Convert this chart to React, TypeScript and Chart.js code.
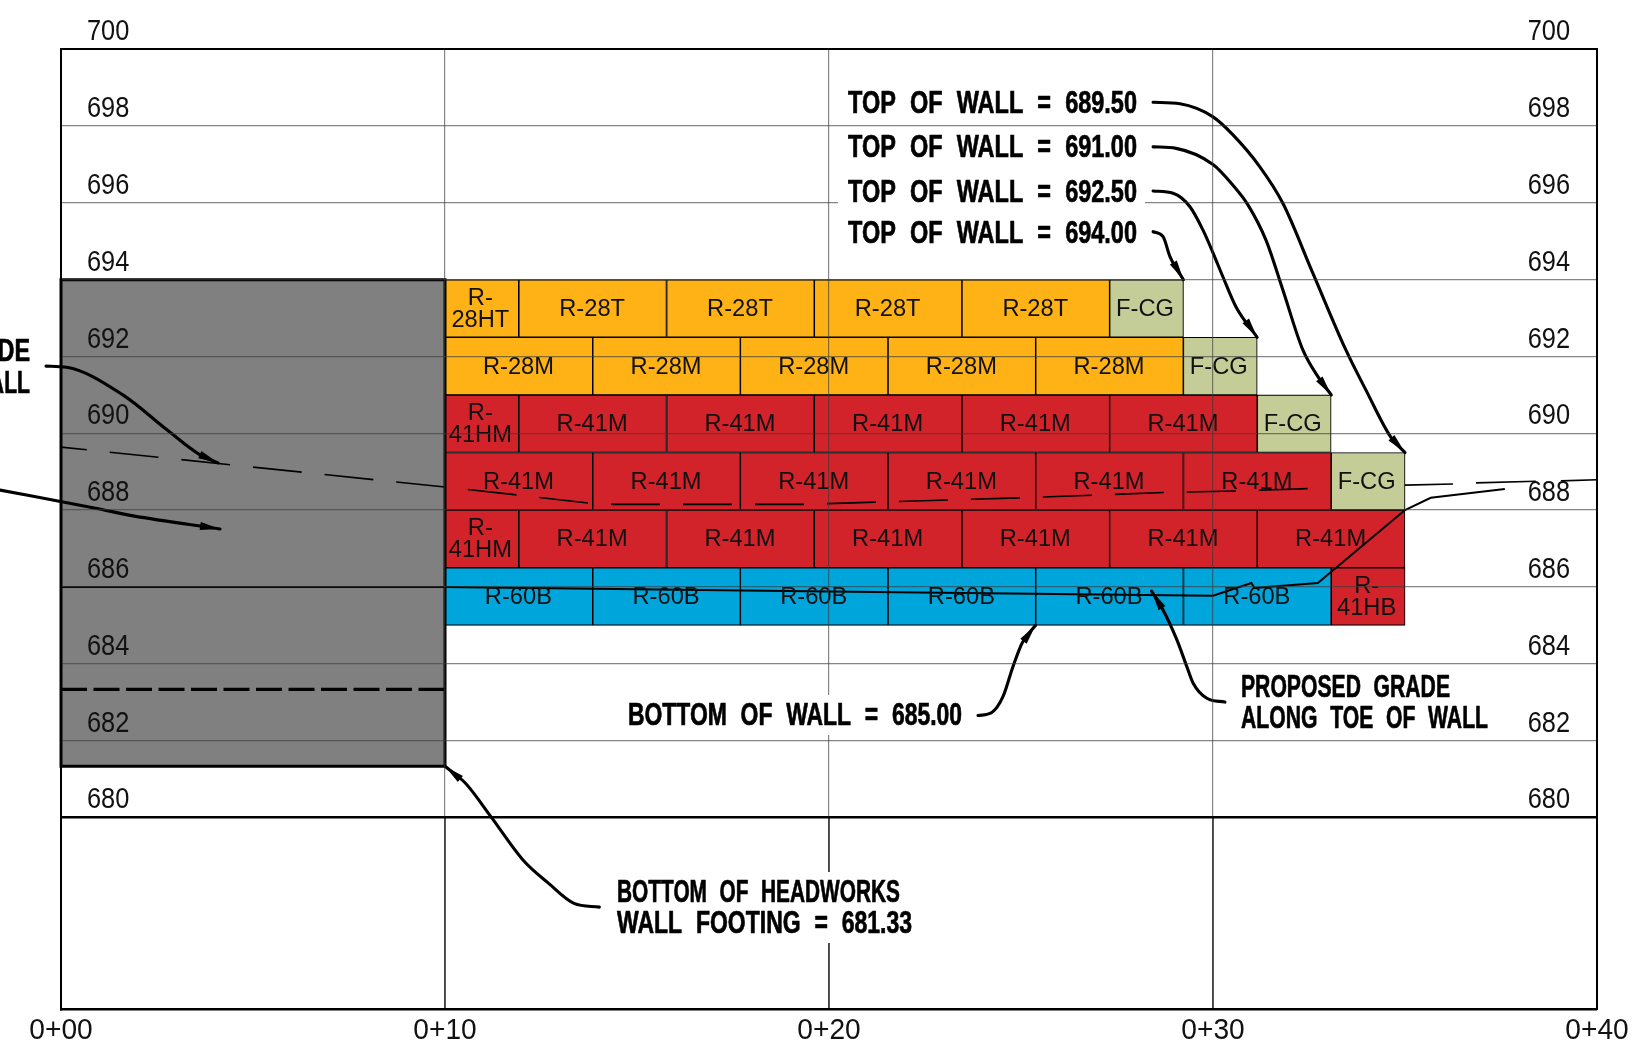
import React, { useEffect, useRef } from "react";
import { Chart, registerables } from "chart.js";

Chart.register(...registerables);

// ---- axis values ----
const xTicks = [0, 10, 20, 30, 40];
const yTicks = [680, 682, 684, 686, 688, 690, 692, 694, 696, 698, 700];

// ---- wall panels ----
const rowTops = [694, 692.5, 691, 689.5, 688, 686.5];
const rowDrop = 1.5;
const row1Edges = [10, 11.92, 15.77, 19.62, 23.46, 27.31, 29.23];
const row1Labels = ["R-28HT", "R-28T", "R-28T", "R-28T", "R-28T", "F-CG"];
const row2Edges = [10, 13.85, 17.69, 21.54, 25.38, 29.23, 31.15];
const row2Labels = ["R-28M", "R-28M", "R-28M", "R-28M", "R-28M", "F-CG"];
const row3Edges = [10, 11.92, 15.77, 19.62, 23.46, 27.31, 31.15, 33.08];
const row3Labels = ["R-41HM", "R-41M", "R-41M", "R-41M", "R-41M", "R-41M", "F-CG"];
const row4Edges = [10, 13.85, 17.69, 21.54, 25.38, 29.23, 33.08, 35];
const row4Labels = ["R-41M", "R-41M", "R-41M", "R-41M", "R-41M", "R-41M", "F-CG"];
const row5Edges = [10, 11.92, 15.77, 19.62, 23.46, 27.31, 31.15, 35];
const row5Labels = ["R-41HM", "R-41M", "R-41M", "R-41M", "R-41M", "R-41M", "R-41M"];
const row6Edges = [10, 13.85, 17.69, 21.54, 25.38, 29.23, 33.08, 35];
const row6Labels = ["R-60B", "R-60B", "R-60B", "R-60B", "R-60B", "R-60B", "R-41HB"];

// ---- headworks wall ----
const wallX = [0, 10];
const wallY = [681.33, 694];
const wallDashedY = 683.33;

// ---- grade lines ----
const proposedGrade = [
  [0, 686], [10, 686], [20, 685.88], [30, 685.77], [31, 686.1], [31.08, 685.97],
  [32.73, 686.1], [35, 688], [35.67, 688.32], [37.6, 688.55],
];
const existingGradeLeft = [
  [0, 689.64], [10, 688.6], [11.93, 688.39], [13.78, 688.18], [14.38, 688.15], [19.4, 688.15],
  [21.28, 688.21], [25.03, 688.32], [26.9, 688.39], [28.78, 688.46], [30.65, 688.5],
  [32.53, 688.56], [33.08, 688.58],
];
const existingGradeRight = [
  [35, 688.65], [36.25, 688.68], null, [36.85, 688.71], [38.41, 688.75], null, [39.06, 688.76], [40, 688.79],
];
const stationStubs = [
  [10, 680], [10, 675], null, [20, 680], [20, 675], null, [30, 680], [30, 675],
];

// ---- leaders, label end first, arrow tip last ----
const leaderTop68950 = [[28.44, 698.62], [29.14, 698.58], [30, 698.24], [30.52, 697.77], [31.22, 696.94], [31.82, 695.99], [32.6, 694.17], [33.46, 692.17], [33.98, 691.13], [34.63, 689.9], [35, 689.5]];
const leaderTop69100 = [[28.44, 697.46], [29.04, 697.42], [30, 697], [30.52, 696.46], [30.91, 695.95], [31.38, 695.03], [31.82, 693.73], [32.34, 692.17], [32.79, 691.39], [33.08, 691]];
const leaderTop69250 = [[28.44, 696.31], [28.96, 696.25], [29.4, 695.9], [29.74, 695.29], [30, 694.7], [30.26, 694.07], [30.6, 693.29], [31.15, 692.5]];
const leaderTop69400 = [[28.44, 695.25], [28.7, 695.12], [28.88, 694.6], [29.23, 694]];
const leaderBottomWall = [[23.88, 682.65], [24.24, 682.73], [24.53, 683.14], [24.79, 683.92], [25.03, 684.54], [25.38, 685]];
const leaderProposed = [[30.31, 683], [29.84, 683.1], [29.48, 683.5], [29.32, 683.92], [29.06, 684.62], [28.7, 685.4], [28.4, 685.89]];
const leaderHeadworks = [[14.02, 677.66], [13.36, 677.76], [12.7, 678.28], [12.03, 678.89], [11.2, 680.01], [10.54, 680.88], [10, 681.33]];
const leaderExisting = [[-0.39, 691.75], [0.15, 691.72], [1.61, 691], [2.76, 690.09], [3.62, 689.44], [4.09, 689.23]];
const leaderHeadwall = [[-1.59, 688.52], [0.9, 688.05], [1.88, 687.85], [4.14, 687.51]];
const leaders = [
  leaderTop68950, leaderTop69100, leaderTop69250, leaderTop69400, leaderBottomWall,
  leaderProposed, leaderHeadworks, leaderExisting, leaderHeadwall,
];

// ---- callout text ----
const callouts = [
  { text: "TOP OF WALL = 689.50", left: 848, right: 1137, cy: 104.5 },
  { text: "TOP OF WALL = 691.00", left: 848, right: 1137, cy: 148.5 },
  { text: "TOP OF WALL = 692.50", left: 848, right: 1137, cy: 193 },
  { text: "TOP OF WALL = 694.00", left: 848, right: 1137, cy: 234.5 },
  { text: "BOTTOM OF WALL = 685.00", left: 628, right: 962, cy: 716.5 },
  { text: "PROPOSED GRADE", left: 1241, right: 1450, cy: 688.5 },
  { text: "ALONG TOE OF WALL", left: 1241, right: 1488, cy: 719.5 },
  { text: "BOTTOM OF HEADWORKS", left: 617, right: 900, cy: 893.5 },
  { text: "WALL FOOTING = 681.33", left: 617, right: 912, cy: 924.5 },
  { text: "EXISTING GRADE", left: -178, right: 30, cy: 352.5 },
  { text: "ALONG TOP OF WALL", left: -217, right: 30, cy: 384.5 },
];
const wipeouts = [
  [838, 178, 307, 30],
  [618, 695, 354, 40],
  [607, 872, 315, 71],
];

// ---- styles ----
const ORANGE = "#FEB216";
const RED = "#D2232A";
const BLUE = "#00A5DB";
const GREEN = "#C4CD97";
const GREY = "#808080";
const GRID = "rgba(60,60,60,0.62)";
const TICK_FONT = '29px "Liberation Sans", Arial, sans-serif';
const PANEL_FONT = '23.7px "Liberation Sans", Arial, sans-serif';
const CALLOUT_FONT = 'bold 31px "Liberation Sans", Arial, sans-serif';
const HALF_WIDTH = 73.85;
const FULL_WIDTH = 147.7;

const allRows = [
  [row1Edges, row1Labels], [row2Edges, row2Labels], [row3Edges, row3Labels],
  [row4Edges, row4Labels], [row5Edges, row5Labels], [row6Edges, row6Labels],
] as [number[], string[]][];

type Panel = { x: number; y: number[]; label: string };
const halfPanels: Panel[] = [];
const fullPanels: Panel[] = [];
allRows.forEach(([edges, labels], r) => {
  labels.forEach((label, i) => {
    const panel = { x: (edges[i] + edges[i + 1]) / 2, y: [rowTops[r] - rowDrop, rowTops[r]], label };
    (edges[i + 1] - edges[i] < 2.5 ? halfPanels : fullPanels).push(panel);
  });
});
const panelColor = (label: string) =>
  label.startsWith("R-28") ? ORANGE : label.startsWith("R-41") ? RED : label.startsWith("R-60") ? BLUE : GREEN;

const toPoints = (list: (number[] | null)[]) =>
  list.map((p) => (p ? { x: p[0], y: p[1] } : { x: NaN, y: NaN }));

const splitLabel = (label: string) => {
  if (label === "R-28HT") return ["R-", "28HT"];
  if (label === "R-41HM") return ["R-", "41HM"];
  if (label === "R-41HB") return ["R-", "41HB"];
  return [label];
};

const panelText = {
  id: "panelText",
  afterDatasetsDraw(chart: any) {
    const ctx = chart.ctx;
    ctx.save();
    ctx.font = PANEL_FONT;
    ctx.fillStyle = "#111";
    ctx.textAlign = "center";
    ctx.textBaseline = "middle";
    chart.data.datasets.forEach((ds: any, di: number) => {
      if (!ds.isPanel) return;
      const nudge = ds.barThickness === HALF_WIDTH ? -1.5 : -0.5;
      chart.getDatasetMeta(di).data.forEach((el: any, i: number) => {
        const lines = splitLabel(ds.data[i].label);
        const cy = (el.y + el.base) / 2 + 1;
        lines.forEach((line, k) => {
          ctx.fillText(line, el.x + nudge, cy + (k - (lines.length - 1) / 2) * 22);
        });
      });
    });
    ctx.restore();
  },
};

const squeezed = (ctx: any, text: string, x: number, y: number, sx: number, align: string, heavy = 0) => {
  ctx.save();
  ctx.translate(x, y);
  ctx.scale(sx, 1);
  ctx.textAlign = align;
  ctx.fillText(text, 0, 0);
  if (heavy) {
    ctx.lineWidth = heavy;
    ctx.lineJoin = "round";
    ctx.strokeStyle = "#000";
    ctx.strokeText(text, 0, 0);
  }
  ctx.restore();
};

const overlay = {
  id: "overlay",
  afterDraw(chart: any) {
    const { ctx, scales, chartArea } = chart;
    ctx.save();
    ctx.fillStyle = "#fff";
    wipeouts.forEach(([x, y, w, h]) => ctx.fillRect(x, y, w, h));

    // axis tick labels, condensed like the drafting font
    ctx.fillStyle = "#111";
    ctx.font = TICK_FONT;
    ctx.textBaseline = "middle";
    scales.y.ticks.forEach((t: any) => {
      const py = scales.y.getPixelForValue(t.value) - 17;
      squeezed(ctx, t.label, chartArea.left + 26, py, 0.875, "left");
      squeezed(ctx, t.label, chartArea.right - 27, py, 0.875, "right");
    });
    scales.x.ticks.forEach((t: any) => {
      squeezed(ctx, t.label, scales.x.getPixelForValue(t.value), chartArea.bottom + 22, 0.97, "center");
    });

    // arrow heads
    ctx.fillStyle = "#000";
    leaders.forEach((pts) => {
      const n = pts.length;
      const tx = scales.x.getPixelForValue(pts[n - 1][0]);
      const ty = scales.y.getPixelForValue(pts[n - 1][1]);
      const px = scales.x.getPixelForValue(pts[n - 2][0]);
      const py = scales.y.getPixelForValue(pts[n - 2][1]);
      const a = Math.atan2(ty - py, tx - px);
      const len = 20;
      const half = 4;
      const bx = tx - Math.cos(a) * len;
      const by = ty - Math.sin(a) * len;
      ctx.beginPath();
      ctx.moveTo(tx, ty);
      ctx.lineTo(bx - Math.sin(a) * half, by + Math.cos(a) * half);
      ctx.lineTo(bx + Math.sin(a) * half, by - Math.cos(a) * half);
      ctx.closePath();
      ctx.fill();
    });

    ctx.font = CALLOUT_FONT;
    (ctx as any).wordSpacing = "10px";
    ctx.textBaseline = "middle";
    callouts.forEach((c) => {
      const natural = ctx.measureText(c.text).width;
      squeezed(ctx, c.text, c.left, c.cy, (c.right - c.left) / natural, "left", 0.7);
    });
    ctx.restore();
  },
};

const lineDs = (data: any[], width: number, extra: any = {}) => ({
  type: "line",
  data,
  borderColor: "#000",
  backgroundColor: "#000",
  borderWidth: width,
  pointRadius: 0,
  fill: false,
  clip: false,
  spanGaps: false,
  order: 1,
  ...extra,
});

export default function App() {
  const ref = useRef<HTMLCanvasElement>(null);
  useEffect(() => {
    const chart = new Chart(ref.current as any, {
      type: "bar",
      data: {
        datasets: [
          ...leaders.map((pts) => lineDs(toPoints(pts), 3.1, { cubicInterpolationMode: "monotone", borderCapStyle: "round" })),
          lineDs(toPoints(proposedGrade), 2),
          lineDs(toPoints(existingGradeLeft), 1.6, { borderDash: [49, 23], borderDashOffset: 23 }),
          lineDs(toPoints(existingGradeRight), 1.6),
          lineDs(toPoints(stationStubs), 1.3),
          lineDs(toPoints([[wallX[0], wallDashedY], [wallX[1], wallDashedY]]), 3.3, { borderDash: [26, 6.5] }),
          lineDs(
            toPoints([
              [wallX[0], wallY[0]], [wallX[0], wallY[1]], [wallX[1], wallY[1]], [wallX[1], wallY[0]], [wallX[0], wallY[0]],
            ]),
            3,
            { borderCapStyle: "square", borderJoinStyle: "miter" },
          ),
          {
            type: "bar",
            isPanel: true,
            data: halfPanels,
            stack: "wall",
            barThickness: HALF_WIDTH,
            backgroundColor: halfPanels.map((p) => panelColor(p.label)),
            borderColor: "#000",
            borderWidth: 1.1,
            borderSkipped: false,
            order: 2,
          },
          {
            type: "bar",
            isPanel: true,
            data: fullPanels,
            stack: "wall",
            barThickness: FULL_WIDTH,
            backgroundColor: fullPanels.map((p) => panelColor(p.label)),
            borderColor: "#000",
            borderWidth: 1.1,
            borderSkipped: false,
            order: 2,
          },
          {
            type: "bar",
            data: [{ x: (wallX[0] + wallX[1]) / 2, y: wallY }],
            stack: "wall",
            barThickness: 384,
            backgroundColor: GREY,
            borderWidth: 0,
            order: 3,
          },
        ] as any,
      },
      options: {
        animation: false,
        responsive: false,
        devicePixelRatio: 1,
        layout: { padding: { left: 61, right: 36, top: 49.3, bottom: 0 } },
        plugins: { legend: { display: false }, tooltip: { enabled: false }, title: { display: false } },
        scales: {
          x: {
            type: "linear",
            position: "bottom",
            min: 0,
            max: 40,
            offset: false,
            afterBuildTicks: (a: any) => { a.ticks = xTicks.map((value) => ({ value })); },
            afterFit: (a: any) => { a.height = 47.7; },
            grid: {
              z: 1,
              offset: false,
              drawTicks: false,
              lineWidth: 1.2,
              color: (c: any) => (c.tick && (c.tick.value === 0 || c.tick.value === 40) ? "rgba(0,0,0,0)" : GRID),
            },
            border: { display: true, color: "#000", width: 2.5, z: 2 },
            ticks: {
              display: false,
              autoSkip: false,
              callback: (v: any) => `0+${String(v).padStart(2, "0")}`,
            },
          },
          xTop: {
            type: "linear",
            axis: "x",
            position: "top",
            min: 0,
            max: 40,
            afterFit: (a: any) => { a.height = 0; },
            grid: { display: false, offset: false },
            border: { display: true, color: "#000", width: 2, z: 2 },
            ticks: { display: false },
          },
          y: {
            type: "linear",
            position: "left",
            min: 675,
            max: 700,
            stacked: false,
            afterBuildTicks: (a: any) => { a.ticks = yTicks.map((value) => ({ value })); },
            afterFit: (a: any) => { a.width = 0; },
            grid: {
              z: 1,
              drawTicks: false,
              lineWidth: (c: any) => (c.tick && c.tick.value === 680 ? 2.6 : 1.2),
              color: (c: any) => {
                const v = c.tick && c.tick.value;
                if (v === 700) return "rgba(0,0,0,0)";
                return v === 680 ? "#000" : GRID;
              },
            },
            border: { display: true, color: "#000", width: 2, z: 2 },
            ticks: { display: false, autoSkip: false, callback: (v: any) => String(v) },
          },
          yRight: {
            type: "linear",
            axis: "y",
            position: "right",
            min: 675,
            max: 700,
            afterFit: (a: any) => { a.width = 0; },
            grid: { display: false, drawTicks: false },
            border: { display: true, color: "#000", width: 2, z: 2 },
            ticks: { display: false },
          },
        },
      } as any,
      plugins: [panelText, overlay],
    });
    return () => chart.destroy();
  }, []);
  return (
    <div style={{ position: "fixed", left: 0, top: 0, width: 1633, height: 1057, background: "#fff", overflow: "hidden" }}>
      <canvas ref={ref} width={1633} height={1057} style={{ display: "block", width: 1633, height: 1057 }} />
    </div>
  );
}
